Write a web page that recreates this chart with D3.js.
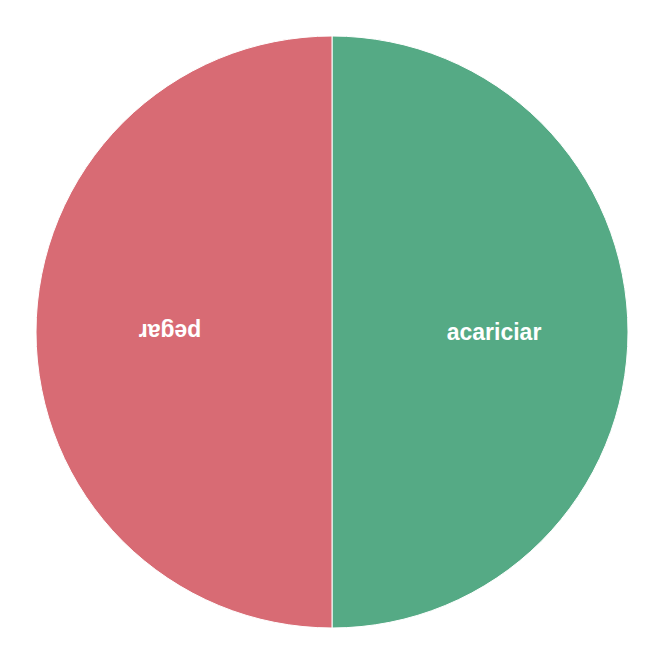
<!DOCTYPE html>
<html><head><meta charset="utf-8">
<script src="https://cdn.jsdelivr.net/npm/d3@7"></script>
<style>body{margin:0;background:#fff}</style>
</head><body>
<svg id="c" width="664" height="664"></svg>
<script>
const categories = ["acariciar", "pegar"];
const values = [50, 50];
const colors = ["#55aa85", "#d86b74"];

const svg = d3.select("#c");
const cx = 332, cy = 332, r = 296;
const g = svg.append("g").attr("transform", `translate(${cx},${cy})`);
const data = categories.map((c, i) => ({cat: c, val: values[i], color: colors[i]}));
const pie = d3.pie().value(d => d.val).sort(null);
const arcs = pie(data);
const arc = d3.arc().innerRadius(0).outerRadius(r);
g.selectAll("path").data(arcs).join("path")
  .attr("d", arc).attr("fill", d => d.data.color)
  .attr("stroke", "#fff").attr("stroke-width", 1);
const lr = 162;
g.selectAll("text").data(arcs).join("text")
  .attr("transform", d => {
    const a = (d.startAngle + d.endAngle) / 2;
    const x = Math.sin(a) * lr, y = -Math.cos(a) * lr;
    return `translate(${x},${y}) rotate(${a * 180 / Math.PI - 90})`;
  })
  .attr("text-anchor", "middle").attr("dy", "0.33em")
  .attr("fill", "#fff").attr("font-family", "Liberation Sans, Arial, sans-serif")
  .attr("font-weight", "bold").attr("font-size", 23)
  .text(d => d.data.cat);
</script>
</body></html>
